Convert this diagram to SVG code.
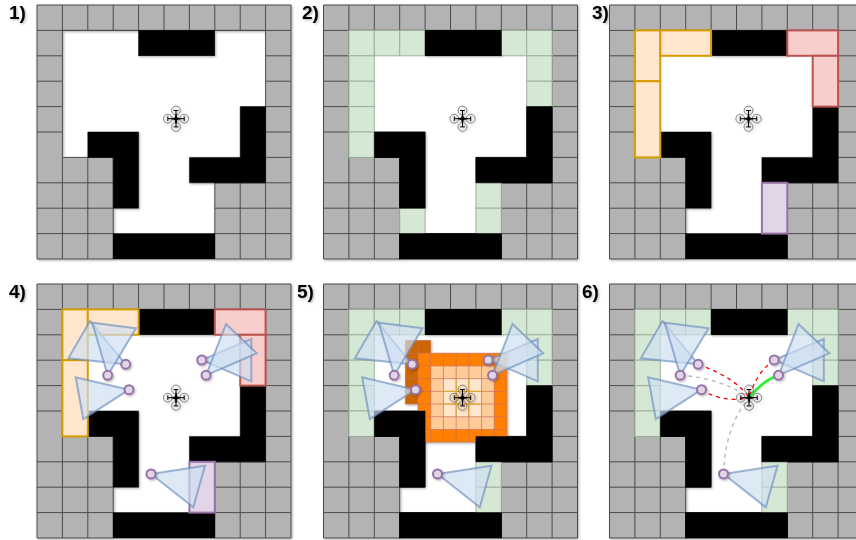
<svg xmlns="http://www.w3.org/2000/svg" xmlns:xlink="http://www.w3.org/1999/xlink" width="856" height="540" viewBox="0 0 856 540">
<style>
.lbl{font-family:"Liberation Sans",Arial,sans-serif;font-weight:700;font-size:19px;fill:#000}
.gray{fill:#b3b3b3;stroke:#4a4a4a;stroke-width:1}
.glines{fill:none;stroke:#4a4a4a;stroke-width:1}
.blk{fill:#000;stroke:#000;stroke-width:.5}
.grn{fill:#d5e8d4;stroke:#9fb09e;stroke-width:1}
.yel{fill:#ffe6cc;stroke:#d79b00;stroke-width:2}
.red{fill:#f8cecc;stroke:#b85450;stroke-width:2}
.pur{fill:#e1d5e7;stroke:#9673a6;stroke-width:2}
.tri{fill:#cfdff2;fill-opacity:.68;stroke:#6c8ebf;stroke-opacity:.65;stroke-width:2;stroke-linejoin:miter}
.cam{fill:#e1d5e7;stroke:#9673a6;stroke-width:2}
.c-red{fill:none;stroke:#ff0000;stroke-width:1.3;stroke-dasharray:4 4}
.c-gry{fill:none;stroke:#bbbbbb;stroke-width:1.4;stroke-dasharray:4 4}
.c-grn{fill:none;stroke:#33ee33;stroke-width:2.8}
.rot{fill:none;stroke:#666;stroke-width:.8}
</style>
<defs>
<filter id="sh" x="-5%" y="-5%" width="115%" height="115%"><feDropShadow dx="1.2" dy="1.2" stdDeviation="1.2" flood-color="#000" flood-opacity=".28"/></filter>
<g id="black">
<rect class="blk" x="101.6" y="25.4" width="76.2" height="25.4"/>
<path class="blk" d="M50.8 127H101.6V203.2H76.2V152.4H50.8Z"/>
<path class="blk" d="M203.2 101.6H228.6V177.8H152.4V152.4H203.2Z"/>
<rect class="blk" x="76.2" y="228.6" width="101.6" height="25.4"/>
</g>
<g id="base" filter="url(#sh)">
<path class="gray" d="M0 0H254V254H177.8V177.8H228.6V25.4H25.4V152.4H76.2V254H0Z"/>
<path class="glines" d="M0 25.4H254M0 50.8H25.4M228.6 50.8H254M0 76.2H25.4M228.6 76.2H254M0 101.6H25.4M228.6 101.6H254M0 127H25.4M228.6 127H254M228.6 152.4H254M0 177.8H76.2M177.8 177.8H254M0 203.2H76.2M177.8 203.2H254M0 228.6H76.2M177.8 228.6H254M25.4 0V25.4M50.8 0V25.4M76.2 0V25.4M101.6 0V25.4M127 0V25.4M152.4 0V25.4M177.8 0V25.4M203.2 0V25.4M228.6 0V25.4M25.4 152.4V254M50.8 152.4V254M203.2 177.8V254M228.6 177.8V254"/>
<use xlink:href="#black" href="#black"/>
</g>
<g id="green">
<rect class="grn" x="25.4" y="25.4" width="25.4" height="25.4"/>
<rect class="grn" x="50.8" y="25.4" width="25.4" height="25.4"/>
<rect class="grn" x="76.2" y="25.4" width="25.4" height="25.4"/>
<rect class="grn" x="177.8" y="25.4" width="25.4" height="25.4"/>
<rect class="grn" x="203.2" y="25.4" width="25.4" height="25.4"/>
<rect class="grn" x="25.4" y="50.8" width="25.4" height="25.4"/>
<rect class="grn" x="25.4" y="76.2" width="25.4" height="25.4"/>
<rect class="grn" x="25.4" y="101.6" width="25.4" height="25.4"/>
<rect class="grn" x="25.4" y="127" width="25.4" height="25.4"/>
<rect class="grn" x="203.2" y="50.8" width="25.4" height="25.4"/>
<rect class="grn" x="203.2" y="76.2" width="25.4" height="25.4"/>
<rect class="grn" x="152.4" y="177.8" width="25.4" height="25.4"/>
<rect class="grn" x="152.4" y="203.2" width="25.4" height="25.4"/>
</g>
<g id="segments">
<rect class="yel" x="25.4" y="25.4" width="25.4" height="50.8"/>
<rect class="yel" x="50.8" y="25.4" width="50.8" height="25.4"/>
<rect class="yel" x="25.4" y="76.2" width="25.4" height="76.2"/>
<rect class="red" x="177.8" y="25.4" width="50.8" height="25.4"/>
<rect class="red" x="203.2" y="50.8" width="25.4" height="50.8"/>
<rect class="pur" x="152.4" y="177.8" width="25.4" height="50.8"/>
</g>
<g id="views">
<polygon class="tri" points="88.7,80.3 31.3,74.3 53,37"/>
<polygon class="tri" points="70.7,91.3 55.3,38.7 99,44.3"/>
<polygon class="tri" points="92,105.7 38.7,93.3 46.3,135"/>
<polygon class="tri" points="164.7,76 214.3,55 214.3,97.3"/>
<polygon class="tri" points="169,91.3 189,40 219.7,69.3"/>
<polygon class="tri" points="114,190 168,181.7 156.3,223.3"/>
</g>
<g id="cams" filter="url(#sh)">
<circle class="cam" cx="88.7" cy="80.3" r="4.5"/>
<circle class="cam" cx="70.7" cy="91.3" r="4.5"/>
<circle class="cam" cx="92" cy="105.7" r="4.5"/>
<circle class="cam" cx="164.7" cy="76" r="4.5"/>
<circle class="cam" cx="169" cy="91.3" r="4.5"/>
<circle class="cam" cx="114" cy="190" r="4.5"/>
</g>
<g id="drone" filter="url(#sh)">
<circle class="rot" cx="0" cy="-8.2" r="4.4"/>
<circle class="rot" cx="0" cy="8.2" r="4.4"/>
<circle class="rot" cx="-8.2" cy="0" r="4.4"/>
<circle class="rot" cx="8.2" cy="0" r="4.4"/>
<path fill="none" stroke="#000" stroke-width="1" d="M-2.4 -8.2H2.4M-2.4 8.2H2.4M-8.2 -2.4V2.4M8.2 -2.4V2.4M-8.2 0H8.2M0 -8.2V8.2"/>
<polygon fill="#000" points="0,-5.5 1.3,-1.3 5.5,0 1.3,1.3 0,5.5 -1.3,1.3 -5.5,0 -1.3,-1.3"/>
</g>
</defs>

<g id="labels" filter="url(#sh)">
<text class="lbl" x="9" y="19">1)</text>
<text class="lbl" x="302" y="19">2)</text>
<text class="lbl" x="592" y="19">3)</text>
<text class="lbl" x="9" y="298">4)</text>
<text class="lbl" x="297" y="298">5)</text>
<text class="lbl" x="582" y="298">6)</text>
</g>

<g id="panel1" transform="translate(37 5)">
<use href="#base"/>
<use href="#drone" x="139" y="113.7"/>
</g>

<g id="panel2" transform="translate(323.5 5)">
<use href="#base"/>
<use href="#green"/>
<rect class="grn" x="76.2" y="203.2" width="25.4" height="25.4"/>
<use href="#black"/>
<use href="#drone" x="139" y="113.7"/>
</g>

<g id="panel3" transform="translate(609.5 5)">
<use href="#base"/>
<use href="#segments"/>
<use href="#drone" x="139" y="113.7"/>
</g>

<g id="panel4" transform="translate(37 284)">
<use href="#base"/>
<use href="#segments"/>
<use href="#views"/>
<use href="#cams"/>
<use href="#drone" x="139" y="113.7"/>
</g>

<g id="panel5" transform="translate(323.5 284)">
<use href="#base"/>
<use href="#green"/>
<g id="occupancy" transform="translate(94.55 69.25)" filter="url(#sh)">
<path fill="#cc6600" d="M-12.7 -12.7H12.7V0H0V50.8H-12.7Z"/>
<rect width="88.9" height="88.9" fill="#ff8000"/>
<rect x="12.7" y="12.7" width="63.5" height="63.5" fill="#ffcc99"/>
<rect x="25.4" y="25.4" width="38.1" height="38.1" fill="#ffe6cc"/>
<path fill="none" stroke="#c8705a" stroke-width=".9" stroke-opacity=".8" d="M0 0H88.9V88.9H0ZM12.7 0V88.9M25.4 0V88.9M38.1 0V88.9M50.8 0V88.9M63.5 0V88.9M76.2 0V88.9M0 12.7H88.9M0 25.4H88.9M0 38.1H88.9M0 50.8H88.9M0 63.5H88.9M0 76.2H88.9M-12.7 -12.7H12.7V0M-12.7 0H0M-12.7 12.7H0M-12.7 25.4H0M-12.7 38.1H0M-12.7 50.8H0M-12.7 -12.7V50.8M0 -12.7V0"/>
<path fill="none" stroke="#e0a820" stroke-width="1" d="M38.1 25.4V63.5M50.8 25.4V63.5M25.4 38.1H63.5M25.4 50.8H63.5"/>
</g>
<use href="#black"/>
<use href="#views"/>
<use href="#cams"/>
<use href="#drone" x="139" y="113.7"/>
</g>

<g id="panel6" transform="translate(609.5 284)">
<use href="#base"/>
<use href="#green"/>
<use href="#black"/>
<use href="#views"/>
<g id="connectors">
<path class="c-gry" d="M70.7 91.3Q112.2 94.3 139.5 113.7"/>
<path class="c-gry" d="M114 190Q115.5 142.7 139.5 113.7"/>
<path class="c-red" d="M88.7 80.3Q127.2 94.3 139.5 113.7"/>
<path class="c-red" d="M92 105.7Q113.8 119.3 139.5 113.7"/>
<path class="c-red" d="M164.7 76Q147.2 87.7 139.5 113.7"/>
<path class="c-grn" d="M169 91.3Q153.8 96 139.5 113.7"/>
</g>
<use href="#cams"/>
<use href="#drone" x="139.5" y="113.7"/>
</g>
</svg>
